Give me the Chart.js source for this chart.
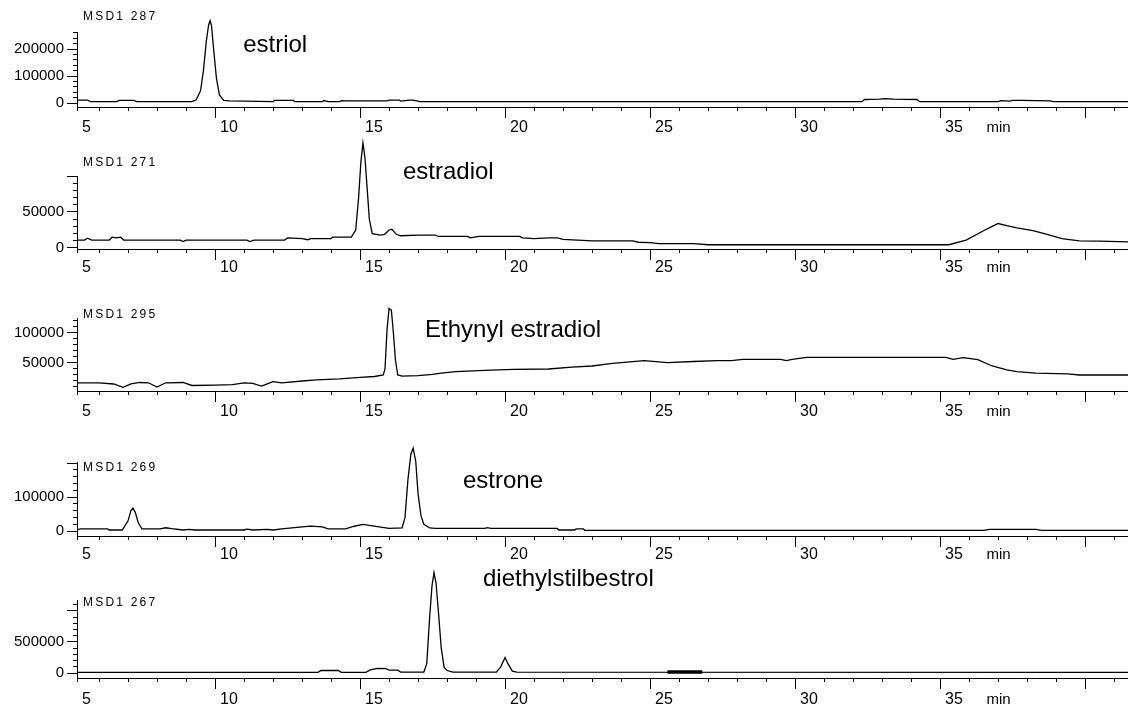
<!DOCTYPE html>
<html><head><meta charset="utf-8">
<script src="https://cdn.jsdelivr.net/npm/chart.js@4.4.1/dist/chart.umd.min.js"></script>
<style>
html,body{margin:0;padding:0;background:#fff;}
#wrap{position:relative;width:1128px;height:710px;overflow:hidden;background:#fff;}
#wrap canvas{position:absolute;left:0;top:0;}
</style></head>
<body><div id="wrap"></div>
<script>
// ---------- data ----------
const ionTitles = ['MSD1 287', 'MSD1 271', 'MSD1 295', 'MSD1 269', 'MSD1 267'];
const compoundNames = ['estriol', 'estradiol', 'Ethynyl estradiol', 'estrone', 'diethylstilbestrol'];
const xTickLabels = [5, 10, 15, 20, 25, 30, 35];
const yTickLabels = [[0, 100000, 200000], [0, 50000], [50000, 100000], [0, 100000], [0, 500000]];

const estriolTime   = [5.24,5.6,5.7,6.6,6.7,7.2,7.3,9.2,9.35,9.5,9.6,9.7,9.78,9.83,9.88,9.95,10.05,10.15,10.3,10.5,12.0,12.05,12.7,12.75,13.7,13.75,13.9,14.3,14.35,14.5,15.3,15.95,16.0,16.35,16.4,16.7,16.8,17.0,17.05,23.0,32.3,32.4,32.9,33.1,33.4,34.2,34.3,37.0,37.1,37.4,37.5,37.8,38.8,38.9,41.48];
const estriolSignal = [11000,11000,5000,5000,10000,10000,5000,5000,12000,45000,120000,230000,290000,305000,285000,200000,90000,30000,10000,8000,5000,10000,10000,5000,5000,9000,5000,5000,9000,8000,8000,8000,11000,11000,7000,11000,11000,7000,5000,5000,5000,13000,14000,16000,14000,13000,5000,5000,9000,7000,10000,10000,8000,5000,5000];

const estradiolTime   = [5.24,5.5,5.6,5.75,6.35,6.45,6.6,6.75,6.85,8.8,8.9,9.0,11.1,11.2,11.35,12.4,12.5,13.0,13.2,13.3,14.0,14.05,14.7,14.85,14.95,15.03,15.1,15.17,15.25,15.32,15.42,15.7,15.85,16.0,16.1,16.25,16.4,17.0,17.6,17.7,18.7,18.8,19.1,20.5,20.6,21.0,21.5,21.8,22.0,23.0,24.4,24.6,25.0,25.3,26.5,27.0,35.3,35.9,36.5,36.8,37.0,37.3,37.65,38.2,38.6,39.2,39.8,40.5,41.48];
const estradiolSignal = [11000,11000,13500,11000,11000,15000,14000,15000,11000,11000,9000,11000,11000,9000,11000,11000,14000,13000,11500,13000,13000,15000,15000,25000,70000,120000,146000,125000,80000,40000,20000,18000,19000,25000,26000,19000,17000,18000,18000,16000,16000,14000,16000,16000,14000,13000,14000,14000,12000,10000,10000,8000,7500,6000,6000,4500,4500,11000,24000,30000,34000,31000,28000,24000,20000,13000,10000,9500,8500];

const ethynylTime   = [5.24,6.0,6.5,6.83,7.1,7.4,7.7,8.0,8.3,8.9,9.2,10.0,10.6,11.0,11.3,11.6,12.0,12.3,13.0,13.5,14.3,15.0,15.5,15.8,15.86,15.93,16.0,16.08,16.15,16.22,16.3,16.45,17.0,17.5,17.8,18.3,19.5,20.3,21.5,22.3,23.0,23.7,24.8,25.6,26.5,27.3,27.8,28.2,29.5,29.7,29.9,30.4,35.2,35.45,35.8,36.3,36.8,37.3,37.65,38.3,39.4,39.8,41.48];
const ethynylSignal = [17000,17000,15000,9500,15000,17500,17000,10000,17000,17500,12500,13000,14000,17000,16000,11500,19000,17000,20000,22000,23500,26000,27500,30000,40000,105000,141000,138000,100000,55000,30000,28000,29000,31000,33000,35500,38000,39500,40000,43000,45000,49500,54000,50500,52500,54000,54000,56000,56000,54000,56000,59500,59500,56000,59000,55500,45000,38500,35500,33000,32000,30000,30000];

const estroneTime   = [5.24,5.35,6.3,6.35,6.8,7.0,7.1,7.17,7.25,7.35,7.48,8.1,8.3,8.5,8.9,9.1,9.3,11.0,11.1,11.3,11.8,12.0,12.3,13.0,13.3,13.7,13.9,14.5,14.8,15.1,15.6,16.0,16.45,16.55,16.65,16.75,16.83,16.92,17.0,17.1,17.2,17.4,17.6,19.3,19.4,19.5,21.8,21.85,22.4,22.45,22.7,22.75,36.5,36.7,38.3,38.5,41.48];
const estroneSignal = [3000,6000,6000,3000,3000,30000,60000,67000,55000,25000,6000,6000,9500,7000,3000,5000,3000,3000,5500,3000,5000,3000,6000,12000,14500,12000,6000,6500,14000,19500,13000,8000,9000,40000,150000,225000,244000,205000,110000,45000,20000,9000,7500,7500,10000,7500,7500,3000,3000,6000,6000,2000,2000,5000,5000,2000,2000];

const desTime   = [5.24,13.55,13.65,14.25,14.35,15.2,15.35,15.6,15.9,16.0,16.3,16.4,17.2,17.3,17.4,17.48,17.55,17.62,17.7,17.8,17.9,18.0,18.2,19.7,19.85,20.0,20.1,20.25,20.4,41.48];
const desSignal = [10000,10000,40000,40000,10000,10000,50000,75000,70000,45000,45000,15000,15000,150000,900000,1400000,1620000,1450000,1000000,400000,90000,40000,15000,15000,100000,250000,150000,30000,15000,10000];

const desMarkerTime   = [25.6, 26.8];
const desMarkerSignal = [16000, 16000];

// ---------- layout / style ----------
const FONT = "'Liberation Sans', Arial, sans-serif";
const W = 1128, H = 710;
const xMin = 5.24, xMax = 41.48;
const xMinorStep = 1, xMajorStep = 5;
const minLabelTime = 36.6;

const series = [
  [{t: estriolTime, v: estriolSignal, w: 1.3}],
  [{t: estradiolTime, v: estradiolSignal, w: 1.3}],
  [{t: ethynylTime, v: ethynylSignal, w: 1.3}],
  [{t: estroneTime, v: estroneSignal, w: 1.3}],
  [{t: desTime, v: desSignal, w: 1.3}, {t: desMarkerTime, v: desMarkerSignal, w: 3.5}]
];

const panelLayout = [
  {top: 32,  bottom: 107, yMin: -14800, yMax: 263000,  major: 100000, minor: 20000,  labelGap: 21, titleDx: 6, titleDy: -15, nameT: 10.97, nameV: 215000},
  {top: 176, bottom: 249, yMin: -1400,  yMax: 100000,  major: 50000,  minor: 10000,  labelGap: 19, titleDx: 6, titleDy: -13, nameT: 16.48, nameV: 105500},
  {top: 318, bottom: 391, yMin: 3300,   yMax: 125000,  major: 50000,  minor: 10000,  labelGap: 21, titleDx: 6, titleDy: -3,  nameT: 17.24, nameV: 105000},
  {top: 462, bottom: 536, yMin: -14700, yMax: 203000,  major: 100000, minor: 20000,  labelGap: 19, titleDx: 6, titleDy: 6,   nameT: 18.55, nameV: 147000},
  {top: 600, bottom: 678, yMin: -80600, yMax: 1177000, major: 500000, minor: 100000, labelGap: 22, titleDx: 6, titleDy: 3,   nameT: 19.24, nameV: 1516000}
];

// tick positions at exact multiples of a step inside [min, max]
function stepTicks(min, max, step) {
  const out = [];
  for (let k = Math.ceil(min / step - 1e-9); k * step <= max + 1e-9; k++) out.push({value: Math.round(k * step * 1e6) / 1e6});
  return out;
}

const panelText = {
  id: 'panelText',
  afterDraw(chart, args, opts) {
    const i = opts.index;
    const L = panelLayout[i];
    const ctx = chart.ctx, ca = chart.chartArea;
    const xs = chart.scales.x, ys = chart.scales.y;
    ctx.save();
    ctx.fillStyle = '#000';
    ctx.textAlign = 'left';
    ctx.textBaseline = 'middle';
    ctx.letterSpacing = '2.2px';
    ctx.font = '12px ' + FONT;
    ctx.fillText(ionTitles[i], ca.left + L.titleDx, ca.top + L.titleDy);
    ctx.letterSpacing = '0px';
    ctx.font = '24px ' + FONT;
    ctx.fillText(compoundNames[i], xs.getPixelForValue(L.nameT), ys.getPixelForValue(L.nameV));
    ctx.font = '15px ' + FONT;
    ctx.fillText('min', xs.getPixelForValue(minLabelTime), ca.bottom + L.labelGap);
    ctx.restore();
  }
};

const wrap = document.getElementById('wrap');
panelLayout.forEach((L, i) => {
  const cv = document.createElement('canvas');
  cv.width = W; cv.height = H;
  cv.style.width = W + 'px'; cv.style.height = H + 'px';
  wrap.appendChild(cv);
  const labels = yTickLabels[i];
  new Chart(cv, {
    type: 'line',
    data: {
      datasets: series[i].map(s => ({
        data: s.t.map((t, k) => ({x: t, y: s.v[k]})),
        borderColor: '#000',
        borderWidth: s.w,
        pointRadius: 0,
        tension: 0,
        fill: false,
        clip: false
      }))
    },
    options: {
      responsive: false,
      maintainAspectRatio: false,
      animation: false,
      events: [],
      devicePixelRatio: 1,
      layout: {padding: {top: L.top, left: 0, right: 0, bottom: 0}},
      plugins: {legend: {display: false}, tooltip: {enabled: false}, title: {display: false}, panelText: {index: i}},
      scales: {
        x: {
          type: 'linear', position: 'bottom', min: xMin, max: xMax,
          border: {display: true, color: '#000', width: 1},
          grid: {display: true, drawOnChartArea: false, drawTicks: true, tickLength: 4, tickColor: '#000', tickWidth: 1},
          ticks: {
            autoSkip: false, maxRotation: 0, minRotation: 0,
            align: 'start', labelOffset: 5, padding: L.labelGap - 13.6, color: '#000',
            font: {family: FONT, size: 16},
            callback: (v) => {
              const r = Math.round(v);
              return xTickLabels.includes(r) && (Math.abs(v - r) < 1e-6 || v === xMin) ? String(r) : '';
            }
          },
          afterBuildTicks: (s) => { s.ticks = [{value: xMin}].concat(stepTicks(xMin + 0.5, xMax, xMinorStep)); },
          afterFit: (s) => { s.height = H - L.bottom; s.paddingLeft = 0; s.paddingRight = 0; }
        },
        x2: {
          type: 'linear', axis: 'x', position: {y: L.yMin}, min: xMin, max: xMax,
          border: {display: false},
          grid: {display: true, drawOnChartArea: false, drawTicks: true, tickLength: 11, tickColor: '#000', tickWidth: 1},
          ticks: {display: false, autoSkip: false},
          afterBuildTicks: (s) => { s.ticks = stepTicks(xMin, xMax, xMajorStep); },
          afterFit: (s) => { s.paddingLeft = 0; s.paddingRight = 0; }
        },
        y: {
          type: 'linear', position: 'left', min: L.yMin, max: L.yMax,
          border: {display: true, color: '#000', width: 1},
          grid: {display: true, drawOnChartArea: false, drawTicks: true, tickLength: 10, tickColor: '#000', tickWidth: 1},
          ticks: {
            autoSkip: false, padding: 3, color: '#000',
            font: {family: FONT, size: 15},
            callback: (v) => labels.includes(v) ? String(v) : ''
          },
          afterBuildTicks: (s) => { s.ticks = stepTicks(L.yMin, L.yMax, L.major); },
          afterFit: (s) => { s.width = 77; }
        },
        y2: {
          type: 'linear', axis: 'y', position: {x: xMin}, min: L.yMin, max: L.yMax,
          border: {display: false},
          grid: {display: true, drawOnChartArea: false, drawTicks: true, tickLength: 4, tickColor: '#000', tickWidth: 1},
          ticks: {display: false, autoSkip: false},
          afterBuildTicks: (s) => { s.ticks = stepTicks(L.yMin, L.yMax, L.minor); }
        }
      }
    },
    plugins: [panelText]
  });
});
</script>
</body></html>
